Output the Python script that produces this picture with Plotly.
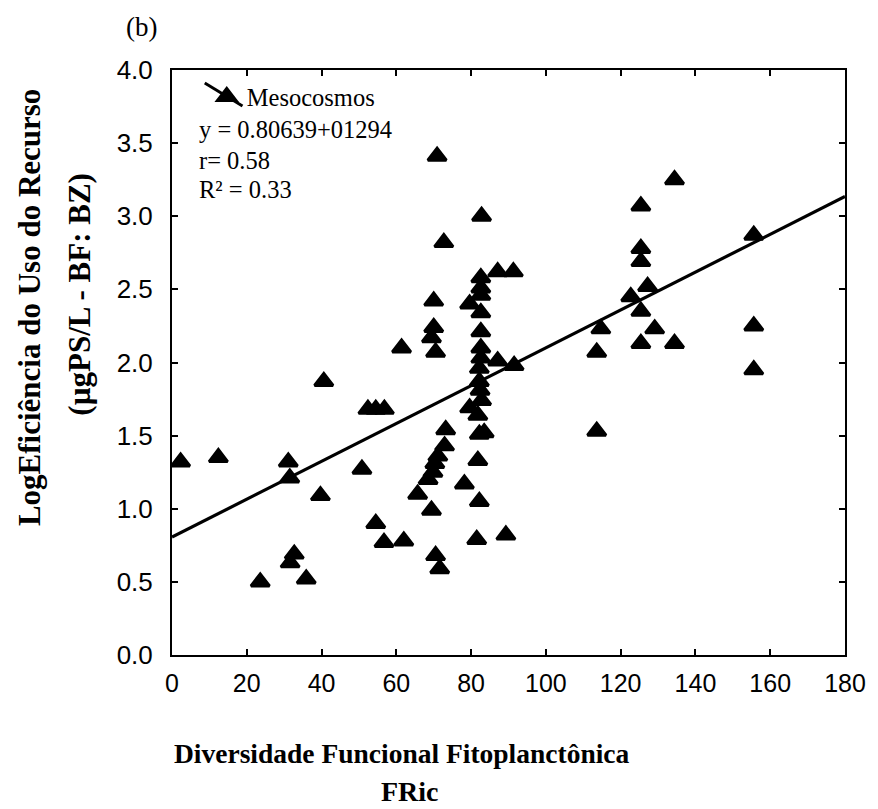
import plotly.graph_objects as go

# Data
fric = [2.3, 12.4, 31.1, 31.5, 23.6, 31.6, 32.7, 35.9, 39.7, 40.6,
        50.8, 52.4, 54.5, 56.8, 54.5, 56.7, 62.0, 61.4, 65.7, 68.5,
        69.4, 69.8, 70.3, 71.1, 72.9, 73.2, 70.5, 71.6, 69.4, 70.0,
        70.5, 70.0, 72.7, 70.9, 78.2, 79.6, 79.6, 81.8, 81.8, 82.2,
        81.5, 82.2, 83.5, 82.8, 82.4, 82.2, 82.2, 82.6, 82.6, 82.6,
        82.6, 82.6, 82.6, 82.6, 82.8, 87.1, 91.3, 87.1, 91.5, 89.3,
        113.6, 113.6, 114.7, 122.7, 125.4, 125.4, 127.2, 125.4, 125.4, 125.4,
        129.1, 134.4, 134.4, 155.6, 155.6, 155.6]
eficiencia = [1.32, 1.35, 1.32, 1.21, 0.50, 0.63, 0.69, 0.52, 1.09, 1.87,
              1.27, 1.68, 1.68, 1.68, 0.90, 0.77, 0.78, 2.10, 1.10, 1.20,
              0.99, 1.25, 1.31, 1.36, 1.43, 1.54, 0.68, 0.59, 2.17, 2.24,
              2.07, 2.42, 2.82, 3.41, 1.17, 1.69, 2.40, 1.64, 1.33, 1.05,
              0.79, 1.51, 1.52, 1.74, 1.81, 1.87, 1.96, 2.03, 2.10, 2.21,
              2.34, 2.46, 2.51, 2.58, 3.00, 2.62, 2.62, 2.01, 1.98, 0.82,
              1.53, 2.07, 2.23, 2.45, 2.35, 2.13, 2.52, 2.69, 2.78, 3.07,
              2.23, 2.13, 3.25, 2.87, 2.25, 1.95]

fit_intercept = 0.80639
fit_slope = 0.01294
fit_x = [0, 180]
fit_y = [fit_intercept + fit_slope * v for v in fit_x]

x_ticks = [0, 20, 40, 60, 80, 100, 120, 140, 160, 180]
y_ticks = [0.0, 0.5, 1.0, 1.5, 2.0, 2.5, 3.0, 3.5, 4.0]

W, H = 878, 809
ML, MR, MT, MB = 172, 28, 70, 154
PW, PH = W - ML - MR, H - MT - MB


def px(xp):
    return (xp - ML) / PW


def py(yp):
    return (H - MB - yp) / PH


SERIF = "Liberation Serif, Times New Roman, serif"
SANS = "Liberation Sans, Arial, sans-serif"

fig = go.Figure()
fig.add_trace(go.Scatter(
    x=fit_x, y=fit_y, mode="lines",
    line=dict(color="black", width=3.2),
    showlegend=False, hoverinfo="skip"))
fig.add_trace(go.Scatter(
    x=fric, y=eficiencia, mode="markers", name="Mesocosmos",
    marker=dict(symbol="triangle-up", size=16, color="black",
                line=dict(color="black", width=3)),
    showlegend=True))

axis_common = dict(showline=True, linecolor="black", linewidth=2,
                   mirror="allticks", ticks="inside", ticklen=6,
                   tickwidth=1.5, tickcolor="black", showgrid=False,
                   zeroline=False)

fig.update_xaxes(range=[0, 180], tickvals=x_ticks,
                 ticktext=[str(v) for v in x_ticks],
                 tickfont=dict(family=SANS, size=25, color="black"),
                 ticklabelstandoff=5, **axis_common)
fig.update_yaxes(range=[0, 4.0], tickvals=y_ticks,
                 ticktext=[f"{v:.1f}" for v in y_ticks],
                 tickfont=dict(family=SANS, size=26, color="black"),
                 ticklabelstandoff=12, **axis_common)

annotations = [
    dict(text="(b)", x=px(141), y=py(27), font=dict(family=SERIF, size=27)),
    dict(text="y = 0.80639+01294", x=px(197), y=py(129), xanchor="left",
         font=dict(family=SERIF, size=24.5)),
    dict(text="r= 0.58", x=px(197), y=py(160), xanchor="left",
         font=dict(family=SERIF, size=24.5)),
    dict(text="R² = 0.33", x=px(197), y=py(189), xanchor="left",
         font=dict(family=SERIF, size=24.5)),
    dict(text="<b>Diversidade Funcional Fitoplanctônica</b>", x=px(404), y=py(753),
         font=dict(family=SERIF, size=27.5)),
    dict(text="<b>FRic</b>", x=px(412), y=py(791), font=dict(family=SERIF, size=28)),
    dict(text="<b>LogEficiência do Uso do Recurso</b>", x=px(28), y=py(308),
         textangle=-90, font=dict(family=SERIF, size=31)),
    dict(text="<b>(µgPS/L - BF: BZ)</b>", x=px(78), y=py(294),
         textangle=-90, font=dict(family=SERIF, size=31)),
]
for a in annotations:
    a.setdefault("xanchor", "center")
    a.update(xref="paper", yref="paper", yanchor="middle", showarrow=False)
    a["font"]["color"] = "black"

fig.update_layout(
    width=W, height=H,
    margin=dict(l=ML, r=MR, t=MT, b=MB, pad=0),
    paper_bgcolor="white", plot_bgcolor="white",
    annotations=annotations,
    legend=dict(x=px(207), y=py(74), xanchor="left", yanchor="top",
                bgcolor="rgba(0,0,0,0)", borderwidth=0,
                font=dict(family=SERIF, size=24.5, color="black"),
                itemsizing="trace"),
    shapes=[dict(type="line", xref="paper", yref="paper",
                 x0=px(205), y0=py(83), x1=px(243), y1=py(106),
                 line=dict(color="black", width=3))],
)

fig.write_html("out.html")
